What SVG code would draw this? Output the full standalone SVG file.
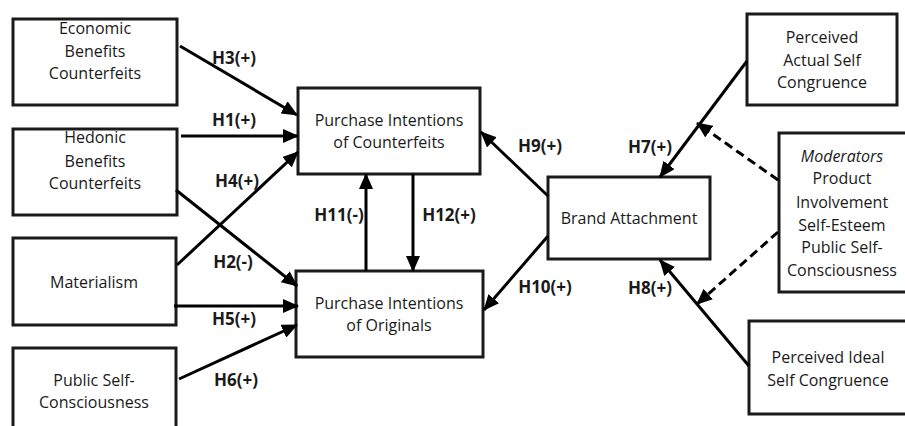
<svg xmlns="http://www.w3.org/2000/svg" width="905" height="426" viewBox="0 0 905 426">
<style>
.box{fill:#fff;stroke:#1a1a1a;stroke-width:3}
.t{font-family:"Open Sans","Liberation Sans",Arial,sans-serif;font-size:16px;fill:#1a1a1a;text-anchor:middle}
.lb{font-family:"Open Sans","Liberation Sans",Arial,sans-serif;font-size:17px;font-weight:bold;fill:#1a1a1a;text-anchor:middle}
.c{stroke:#000;stroke-width:3;fill:none;marker-end:url(#ah)}
.d{stroke:#000;stroke-width:3;fill:none;stroke-dasharray:9,5;marker-end:url(#ah)}
</style>
<defs>
<marker id="ah" markerUnits="userSpaceOnUse" markerWidth="16" markerHeight="14" refX="15" refY="7" orient="auto">
<path d="M0,0 L16,7 L0,14 Z" fill="#000"/>
</marker>
</defs>
<rect width="905" height="426" fill="#fff"/>
<g id="n-economic"><rect class="box" x="13" y="19" width="164" height="86"/>
<text class="t" x="95" y="34">Economic</text><text class="t" x="95" y="57">Benefits</text><text class="t" x="95" y="79">Counterfeits</text></g>
<g id="n-hedonic"><rect class="box" x="13" y="129" width="164" height="86"/>
<text class="t" x="95" y="143">Hedonic</text><text class="t" x="95" y="167">Benefits</text><text class="t" x="95" y="189">Counterfeits</text></g>
<g id="n-materialism"><rect class="box" x="13" y="238" width="163" height="87"/>
<text class="t" x="94" y="288">Materialism</text></g>
<g id="n-publicself"><rect class="box" x="13" y="348" width="163" height="84"/>
<text class="t" x="94" y="386">Public Self-</text><text class="t" x="94" y="408">Consciousness</text></g>
<g id="n-picounterfeits"><rect class="box" x="298" y="88" width="182" height="86"/>
<text class="t" x="389" y="126">Purchase Intentions</text><text class="t" x="389" y="148">of Counterfeits</text></g>
<g id="n-pioriginals"><rect class="box" x="296" y="271" width="187" height="86"/>
<text class="t" x="389" y="309">Purchase Intentions</text><text class="t" x="389" y="331">of Originals</text></g>
<g id="n-brand"><rect class="box" x="548" y="177" width="162" height="82"/>
<text class="t" x="629" y="224">Brand Attachment</text></g>
<g id="n-actual"><rect class="box" x="747" y="14" width="150" height="91"/>
<text class="t" x="822" y="43">Perceived</text><text class="t" x="822" y="66">Actual Self</text><text class="t" x="822" y="88">Congruence</text></g>
<g id="n-moderators"><rect class="box" x="779" y="133" width="132" height="159"/>
<text class="t" x="842" y="162" font-style="italic">Moderators</text><text class="t" x="842" y="184">Product</text><text class="t" x="842" y="208">Involvement</text><text class="t" x="842" y="231">Self-Esteem</text><text class="t" x="842" y="253">Public Self-</text><text class="t" x="842" y="276">Consciousness</text></g>
<g id="n-ideal"><rect class="box" x="749" y="321" width="162" height="93"/>
<text class="t" x="828" y="363">Perceived Ideal</text><text class="t" x="828" y="386">Self Congruence</text></g>
<g id="connectors">
<line class="c" x1="180" y1="46" x2="297" y2="115"/>
<line class="c" x1="181" y1="136" x2="298" y2="136"/>
<line class="c" x1="177" y1="265" x2="298" y2="152"/>
<line class="c" x1="176" y1="190" x2="297" y2="286"/>
<line class="c" x1="174" y1="306" x2="298" y2="306"/>
<line class="c" x1="179" y1="379" x2="297" y2="325"/>
<line class="c" x1="366" y1="271" x2="366" y2="174"/>
<line class="c" x1="413" y1="174" x2="413" y2="271"/>
<line class="c" x1="548" y1="196" x2="481" y2="132"/>
<line class="c" x1="548" y1="236" x2="484" y2="310"/>
<line class="c" x1="747" y1="61" x2="660" y2="177"/>
<line class="c" x1="749" y1="366" x2="660" y2="260"/>
<line class="d" x1="778" y1="180" x2="697" y2="123"/>
<line class="d" x1="778" y1="232" x2="697" y2="304"/>
</g>
<g id="labels">
<text class="lb" x="234" y="64">H3(+)</text>
<text class="lb" x="234" y="126">H1(+)</text>
<text class="lb" x="237" y="187">H4(+)</text>
<text class="lb" x="233" y="268">H2(-)</text>
<text class="lb" x="234" y="325">H5(+)</text>
<text class="lb" x="236" y="386">H6(+)</text>
<text class="lb" x="339" y="221">H11(-)</text>
<text class="lb" x="449" y="221">H12(+)</text>
<text class="lb" x="540" y="152">H9(+)</text>
<text class="lb" x="545" y="293">H10(+)</text>
<text class="lb" x="650" y="153">H7(+)</text>
<text class="lb" x="650" y="294">H8(+)</text>
</g>
</svg>
